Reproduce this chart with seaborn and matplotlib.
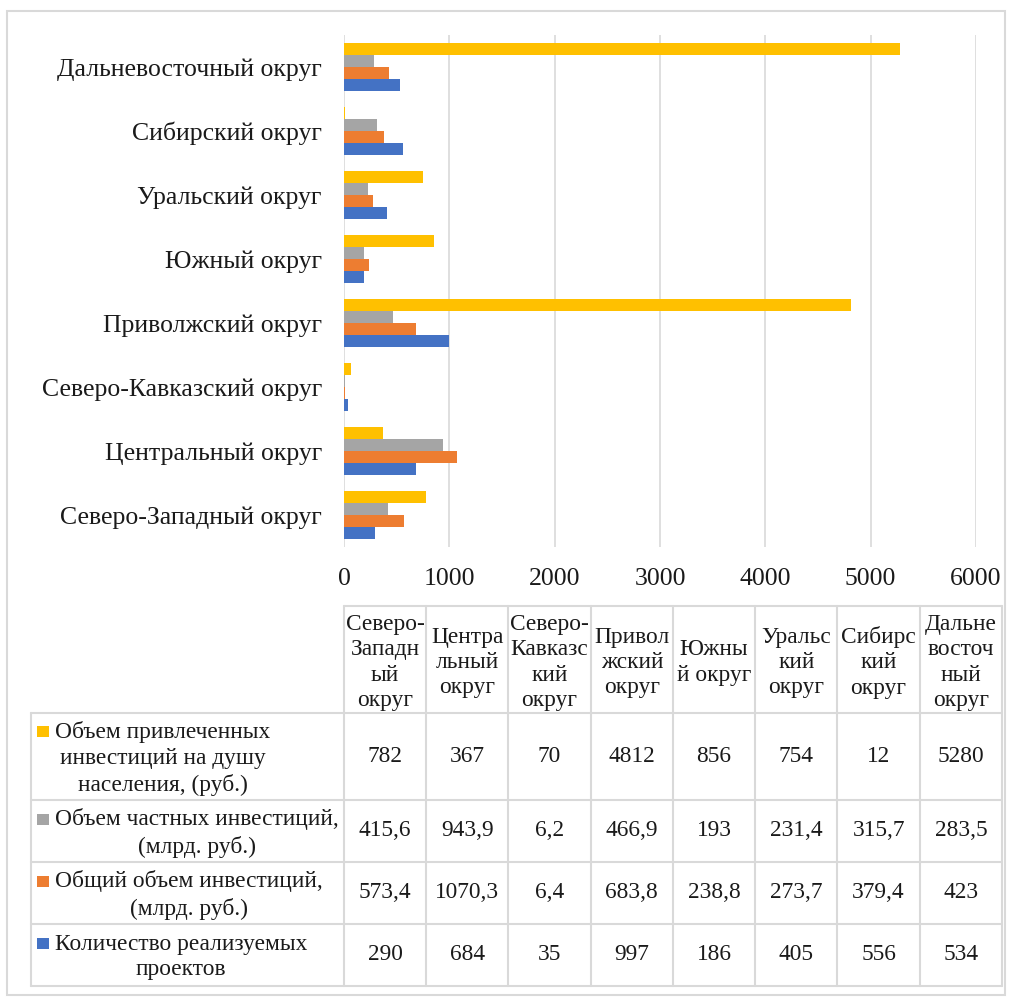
import matplotlib
matplotlib.use("Agg")
import numpy as np
import pandas as pd
import matplotlib.pyplot as plt
import seaborn as sns
from matplotlib.patches import Rectangle

# data
districts = ["Северо-Западный округ", "Центральный округ", "Северо-Кавказский округ",
             "Приволжский округ", "Южный округ", "Уральский округ",
             "Сибирский округ", "Дальневосточный округ"]
header_labels = ["Северо-\nЗападн\nый\nокруг", "Центра\nльный\nокруг",
                 "Северо-\nКавказс\nкий\nокруг", "Привол\nжский\nокруг",
                 "Южны\nй округ", "Уральс\nкий\nокруг", "Сибирс\nкий\nокруг",
                 "Дальне\nвосточ\nный\nокруг"]
series_names = ["Объем привлеченных\nинвестиций на душу\nнаселения, (руб.)",
                "Объем частных инвестиций,\n(млрд. руб.)",
                "Общий объем инвестиций,\n(млрд. руб.)",
                "Количество реализуемых\nпроектов"]
invest_per_capita = [782, 367, 70, 4812, 856, 754, 12, 5280]
private_invest = [415.6, 943.9, 6.2, 466.9, 193, 231.4, 315.7, 283.5]
total_invest = [573.4, 1070.3, 6.4, 683.8, 238.8, 273.7, 379.4, 423]
projects = [290, 684, 35, 997, 186, 405, 556, 534]
colors = ["#FFC000", "#A5A5A5", "#ED7D31", "#4472C4"]
x_ticks = [0, 1000, 2000, 3000, 4000, 5000, 6000]

series_values = [invest_per_capita, private_invest, total_invest, projects]
rows = []
for name, vals in zip(series_names, series_values):
    for d, v in zip(districts, vals):
        rows.append({"district": d, "series": name, "value": v})
df = pd.DataFrame(rows)

sns.set_style("white")
plt.rcParams["font.family"] = ["Liberation Serif", "DejaVu Serif"]
grid_c = "#d9d9d9"
text_c = "#1a1a1a"

W, H = 1012, 1001
fig = plt.figure(figsize=(W / 100, H / 100), dpi=100)

# main chart
ax = fig.add_axes([344 / W, 1 - 547 / H, (976 - 344) / W, (547 - 35) / H])
sns.barplot(data=df, y="district", x="value", hue="series", orient="h",
            order=districts[::-1], hue_order=series_names, palette=colors,
            saturation=1, width=0.74, linewidth=0, legend=False, ax=ax, zorder=3)
ax.set_xlim(0, 6000)
ax.set_xticks(x_ticks)
ax.grid(axis="x", color=grid_c, lw=1.2, zorder=0)
ax.set_axisbelow(True)
for s in ax.spines.values():
    s.set_visible(False)
ax.tick_params(axis="both", length=0, colors=text_c)
ax.tick_params(axis="x", labelsize=18.5, pad=15)
ax.tick_params(axis="y", labelsize=18.5, pad=16)
ax.set_xlabel("")
ax.set_ylabel("")

# data table below the chart, in pixel coordinates
tab = fig.add_axes([0, 0, 1, 1])
tab.set_xlim(0, W)
tab.set_ylim(H, 0)
tab.axis("off")

col_x = np.linspace(344, 1002, len(districts) + 1)
row_y = [713, 800, 862, 924, 986]
head_top = 606
left_x = 31
lw = 1.5

tab.plot([col_x[0], col_x[-1]], [head_top, head_top], color=grid_c, lw=lw)
for y in row_y:
    tab.plot([left_x, col_x[-1]], [y, y], color=grid_c, lw=lw)
for x in col_x:
    tab.plot([x, x], [head_top, row_y[-1]], color=grid_c, lw=lw)
tab.plot([left_x, left_x], [row_y[0], row_y[-1]], color=grid_c, lw=lw)

fs = 16.8
for i, lab in enumerate(header_labels):
    cx = (col_x[i] + col_x[i + 1]) / 2
    tab.text(cx, (head_top + row_y[0]) / 2 + 3, lab, ha="center", va="center",
             fontsize=fs, color=text_c, linespacing=1.26)


def fmt(v):
    return f"{v:g}".replace(".", ",")


for r, (name, vals, c) in enumerate(zip(series_names, series_values, colors)):
    cy = (row_y[r] + row_y[r + 1]) / 2
    n_lines = name.count("\n") + 1
    tab.text(55, cy + 2, name, ha="left", va="center", multialignment="center",
             fontsize=fs, color=text_c, linespacing=1.3)
    first_y = cy + 2 - (n_lines - 1) / 2 * 27
    tab.add_patch(Rectangle((37, first_y - 6), 12, 11, color=c, lw=0))
    for i, v in enumerate(vals):
        cx = (col_x[i] + col_x[i + 1]) / 2
        tab.text(cx, cy, fmt(v), ha="center", va="center", fontsize=fs, color=text_c)

# outer frame
tab.add_patch(Rectangle((7, 11), 998, 984, fill=False, ec=grid_c, lw=1.5))

fig.savefig("out.png", dpi=100)
